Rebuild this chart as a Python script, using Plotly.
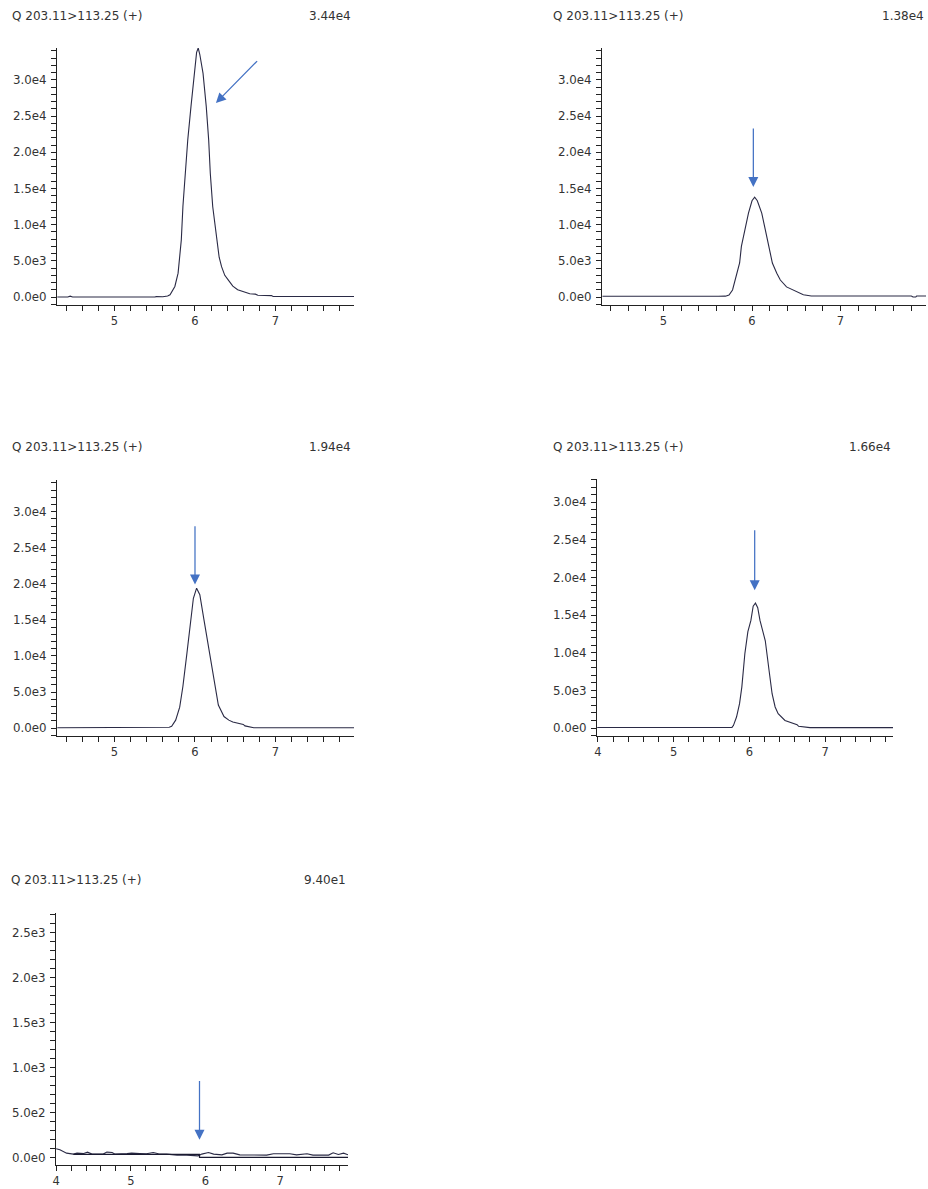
import plotly.graph_objects as go

W, H = 928, 1189

# ---- chromatogram traces (retention time in min, intensity in counts) ----
TITLE = "Q 203.11>113.25 (+)"

t1 = [4.29, 4.42, 4.45, 4.48, 5.50, 5.52, 5.60, 5.66, 5.69, 5.72, 5.75, 5.79, 5.83, 5.85,
      5.88, 5.91, 5.95, 5.99, 6.02, 6.04, 6.06, 6.10, 6.14, 6.17, 6.19, 6.22, 6.27, 6.30,
      6.33, 6.37, 6.41, 6.47, 6.53, 6.60, 6.68, 6.75, 6.78, 6.95, 6.97, 7.98]
i1 = [0, 0, 120, 0, 0, 60, 30, 150, 320, 800, 1460, 3300, 7900, 12500,
      17100, 21700, 26300, 30900, 33800, 34400, 33500, 30900, 26300, 21700, 17100, 12500, 7900, 5500,
      4200, 3000, 2400, 1500, 1000, 700, 450, 400, 250, 200, 80, 80]

t2 = [4.31, 4.35, 4.37, 4.43, 4.45, 4.48, 4.60, 4.63, 4.75, 4.79, 4.81, 4.84, 4.86, 4.99,
      5.01, 5.20, 5.22, 5.38, 5.40, 5.42, 5.60, 5.62, 5.70, 5.74, 5.78, 5.81, 5.86, 5.88,
      5.92, 5.96, 6.00, 6.03, 6.06, 6.11, 6.15, 6.19, 6.23, 6.28, 6.32, 6.39, 6.49, 6.58,
      6.67, 7.80, 7.82, 7.85, 7.86, 7.97]
i2 = [100, 100, 0, 0, 100, 0, 0, 100, 100, 0, 100, 0, 0, 0,
      100, 100, 0, 0, 100, 0, 0, 100, 120, 280, 970, 2350, 4700, 7000,
      9300, 11600, 13300, 13800, 13300, 11600, 9300, 7000, 4700, 3300, 2350, 1400, 780, 320,
      140, 140, 0, 0, 140, 140]

t3 = [4.29, 4.40, 4.43, 4.46, 4.50, 4.53, 5.63, 5.68, 5.71, 5.76, 5.81, 5.85, 5.90, 5.95,
      5.98, 6.02, 6.06, 6.11, 6.18, 6.25, 6.29, 6.36, 6.42, 6.47, 6.55, 6.60, 6.62, 6.72,
      6.73, 7.98]
i3 = [50, 50, 120, 60, 120, 40, 40, 120, 250, 1100, 2900, 5800, 10400, 15100,
      18000, 19400, 18500, 15100, 10400, 5800, 3200, 1600, 1100, 850, 650, 500, 300, 140,
      50, 50]

t4 = [3.99, 4.22, 4.25, 4.28, 4.55, 4.57, 4.60, 4.62, 4.65, 4.90, 4.92, 4.97, 5.05, 5.10,
      5.20, 5.30, 5.35, 5.45, 5.55, 5.60, 5.70, 5.77, 5.79, 5.83, 5.87, 5.90, 5.94, 5.98,
      6.02, 6.05, 6.08, 6.11, 6.14, 6.21, 6.26, 6.30, 6.34, 6.38, 6.47, 6.58, 6.63, 6.65,
      6.80, 7.90]
i4 = [70, 70, 20, 70, 70, 20, 70, 20, 70, 70, 20, 60, 70, 30,
      60, 30, 70, 40, 70, 30, 40, 80, 360, 1460, 3240, 5440, 9870, 12800,
      14300, 16200, 16600, 16000, 14300, 11600, 7650, 4560, 2800, 1900, 1000, 580, 450, 230,
      50, 50]

t5 = [4.00, 4.05, 4.14, 4.23, 4.28, 4.37, 4.42, 4.48, 4.63, 4.68, 4.75, 4.79, 4.95, 5.01,
      5.12, 5.21, 5.30, 5.37, 5.48, 5.62, 5.75, 5.90, 5.95, 6.04, 6.11, 6.22, 6.29, 6.37,
      6.46, 6.64, 6.82, 6.91, 7.13, 7.22, 7.36, 7.44, 7.65, 7.71, 7.78, 7.85, 7.91]
i5 = [100, 89, 52, 41, 52, 48, 63, 41, 41, 63, 59, 41, 48, 52,
      48, 45, 59, 45, 41, 30, 30, 22, 41, 59, 41, 33, 52, 52,
      33, 33, 30, 45, 45, 33, 45, 30, 30, 56, 37, 52, 33]
# integration baseline of the last trace
t5_base = [4.23, 5.92, 5.92, 7.91]
i5_base = [37, 37, 5, 5]

panel_max = ["3.44e4", "1.38e4", "1.94e4", "1.66e4", "9.40e1"]

# ---- panel geometry (pixels) ----
rects = [  # x0, x1, ytop, ybottom
    (57, 354, 48, 305),
    (602, 926, 48, 305),
    (57, 354, 480, 736),
    (597, 893, 479, 736),
    (56, 348, 913, 1165),
]
xranges = [[4.286, 7.975], [4.305, 7.966], [4.286, 7.975], [3.987, 7.897], [3.998, 7.909]]
yranges = [[-1100, 34400], [-1100, 34400], [-1100, 34400], [-1060, 33100], [-80, 2720]]
title_pos = [(10, 16), (551, 16), (10, 447), (551, 447), (9, 880)]
value_right = [353, 926, 353, 893, 348]

# arrows: (tip_x, tip_y, tail_x, tail_y) in data units
arrows = [
    (6.26, 26800, 6.79, 32800),
    (6.015, 15200, 6.015, 23500),
    (6.0, 19900, 6.0, 28200),
    (6.07, 18300, 6.07, 26500),
    (5.92, 200, 5.92, 870),
]

FONT = "DejaVu Sans"
TXT = "#333333"
LINE = "#2a2a45"
AXIS = "#222222"
ARROW = "#4472C4"

fig = go.Figure()

series = [(t1, i1), (t2, i2), (t3, i3), (t4, i4), (t5, i5)]
for k, (t, v) in enumerate(series, start=1):
    fig.add_trace(go.Scatter(x=t, y=v, mode="lines", line=dict(color=LINE, width=1.1),
                             xaxis=f"x{k}", yaxis=f"y{k}", showlegend=False,
                             hoverinfo="skip"))
fig.add_trace(go.Scatter(x=t5_base, y=i5_base, mode="lines",
                         line=dict(color="#1a1a30", width=1.2),
                         xaxis="x5", yaxis="y5", showlegend=False, hoverinfo="skip"))


def fmt_e(v):
    if v == 0:
        return "0.0e0"
    s = f"{v:.1e}"
    mant, ex = s.split("e")
    return f"{mant}e{int(ex)}"


layout = dict(width=W, height=H, margin=dict(l=0, r=0, t=0, b=0, autoexpand=False),
              paper_bgcolor="white", plot_bgcolor="white", showlegend=False,
              font=dict(family=FONT, size=11.5, color=TXT))

annotations = []
for k in range(1, 6):
    x0, x1, yt, yb = rects[k - 1]
    xr = xranges[k - 1]
    yr = yranges[k - 1]
    small = yr[1] < 5000
    ymajor = 500 if small else 5000
    yminor = 100 if small else 1000
    yvals = [ymajor * n for n in range(0, int(yr[1] // ymajor) + 1)]
    xvals = [v for v in [4, 5, 6, 7] if xr[0] <= v <= xr[1]]

    layout[f"xaxis{k}"] = dict(
        domain=[x0 / W, x1 / W], range=xr, anchor=f"y{k}", automargin=False,
        showgrid=False, zeroline=False, showline=True, linecolor=AXIS, linewidth=1,
        ticks="outside", ticklen=5, tickcolor=AXIS, tickwidth=1,
        tickmode="array", tickvals=xvals, ticktext=[str(v) for v in xvals],
        tickfont=dict(family=FONT, size=11.5, color=TXT),
        minor=dict(tickmode="linear", tick0=0, dtick=0.2, ticks="outside",
                   ticklen=5, tickcolor=AXIS, tickwidth=1, showgrid=False),
        fixedrange=True,
    )
    layout[f"yaxis{k}"] = dict(
        domain=[1 - yb / H, 1 - yt / H], range=yr, anchor=f"x{k}", automargin=False,
        showgrid=False, zeroline=False, showline=True, linecolor=AXIS, linewidth=1,
        ticks="outside", ticklen=5, tickcolor=AXIS, tickwidth=1,
        tickmode="array", tickvals=yvals, ticktext=[fmt_e(v) for v in yvals],
        tickfont=dict(family=FONT, size=11.8, color=TXT), ticklabelstandoff=2,
        minor=dict(tickmode="linear", tick0=0, dtick=yminor, ticks="outside",
                   ticklen=5, tickcolor=AXIS, tickwidth=1, showgrid=False),
        fixedrange=True,
    )

    tx, ty = title_pos[k - 1]
    annotations.append(dict(text=TITLE, xref="paper", yref="paper", x=tx / W, y=1 - ty / H,
                            xanchor="left", yanchor="middle", showarrow=False,
                            font=dict(family=FONT, size=12, color=TXT)))
    annotations.append(dict(text=panel_max[k - 1], xref="paper", yref="paper",
                            x=value_right[k - 1] / W, y=1 - ty / H,
                            xanchor="right", yanchor="middle", showarrow=False,
                            font=dict(family=FONT, size=12, color=TXT)))

    ax_tip_x, ax_tip_y, ax_tail_x, ax_tail_y = arrows[k - 1]
    annotations.append(dict(x=ax_tip_x, y=ax_tip_y, ax=ax_tail_x, ay=ax_tail_y,
                            xref=f"x{k}", yref=f"y{k}", axref=f"x{k}", ayref=f"y{k}",
                            text="", showarrow=True, arrowhead=2, arrowsize=1.6,
                            arrowwidth=1.25, arrowcolor=ARROW, standoff=0))

layout["annotations"] = annotations
fig.update_layout(**layout)
fig.write_html("out.html")
